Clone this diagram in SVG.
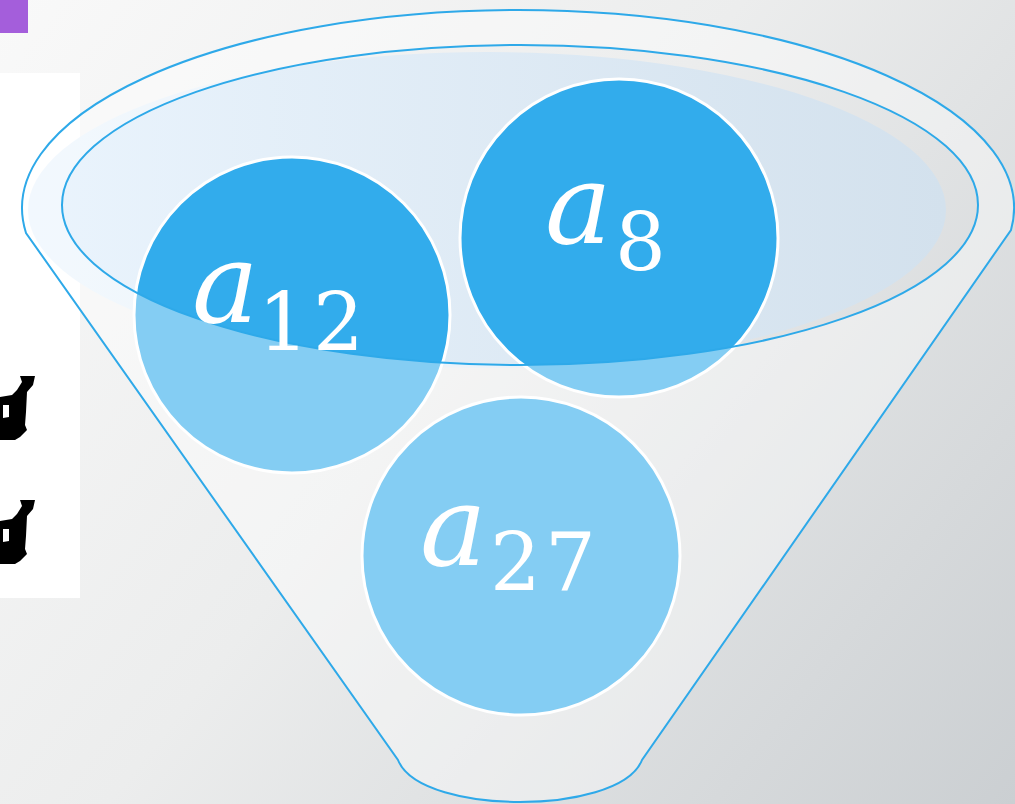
<svg xmlns="http://www.w3.org/2000/svg" width="1015" height="804" viewBox="0 0 1015 804">
  <defs>
    <linearGradient id="bg" x1="0" y1="0" x2="1015" y2="804" gradientUnits="userSpaceOnUse">
      <stop offset="0" stop-color="#f9f9f9"/>
      <stop offset="0.45" stop-color="#eceded"/>
      <stop offset="1" stop-color="#cbcfd2"/>
    </linearGradient>
    <linearGradient id="ov" x1="0" y1="0" x2="1" y2="0">
      <stop offset="0" stop-color="#eaf4fd"/>
      <stop offset="1" stop-color="#d3e1ed"/>
    </linearGradient>
    <style>
      .edge { fill: none; stroke: #2ea9e9; stroke-width: 2; }
      .ball { fill: #32acec; stroke: #ffffff; stroke-width: 3; }
      .lbl { fill: #ffffff; font-family: "DejaVu Serif", "Liberation Serif", serif; }
      .var { font-style: italic; font-size: 112px; }
      .sub { font-size: 80px; letter-spacing: 4px; }
    </style>
  </defs>

  <rect x="0" y="0" width="1015" height="804" fill="url(#bg)"/>

  <g id="sidebar">
    <rect x="0" y="0" width="28" height="33" fill="#a45edb"/>
    <rect x="0" y="73" width="80" height="525" fill="#ffffff"/>
    <path fill-rule="evenodd" fill="#000000" d="M20,376 L35,376 L33,385 L27,392 L26,412 L25,425 L27,430 L20,437 L15,440 L0,440 L0,397 L12,395 L17,390 L22,382 Z M3,405 L9,405 L9,417 L3,418 Z"/>
    <path fill-rule="evenodd" fill="#000000" d="M20,500 L35,500 L33,509 L27,516 L26,536 L25,549 L27,554 L20,561 L15,564 L0,564 L0,521 L12,519 L17,514 L22,506 Z M3,529 L9,529 L9,541 L3,542 Z"/>
  </g>

  <g id="funnel-back">
    <ellipse cx="487" cy="210" rx="459" ry="158" fill="url(#ov)"/>
  </g>

  <g id="node-a12">
    <circle class="ball" cx="292" cy="315" r="158"/>
  </g>
  <g id="node-a8">
    <circle class="ball" cx="619" cy="238" r="159"/>
  </g>
  <g id="node-a27">
    <circle class="ball" cx="521" cy="556" r="159"/>
  </g>

  <g id="funnel-front">
    <path fill-rule="evenodd" fill="#ffffff" fill-opacity="0.4" d="M26,233 A496,198 0 1,1 1011,230 L642,760 C630,790 570,802 520,802 C470,802 410,790 398,760 Z M62,205 A458,160 0 1,0 978,205 A458,160 0 1,0 62,205 Z"/>
    <path class="edge" d="M26,233 A496,198 0 1,1 1011,230 L642,760 C630,790 570,802 520,802 C470,802 410,790 398,760 Z"/>
    <ellipse class="edge" cx="520" cy="205" rx="458" ry="160"/>
  </g>

  <g id="labels">
    <text class="lbl var" x="192" y="322">a</text>
    <text class="lbl sub" x="258" y="350">12</text>
    <text class="lbl var" x="545" y="243">a</text>
    <text class="lbl sub" x="615" y="270">8</text>
    <text class="lbl var" x="420" y="565">a</text>
    <text class="lbl sub" x="490" y="590">27</text>
  </g>
</svg>
